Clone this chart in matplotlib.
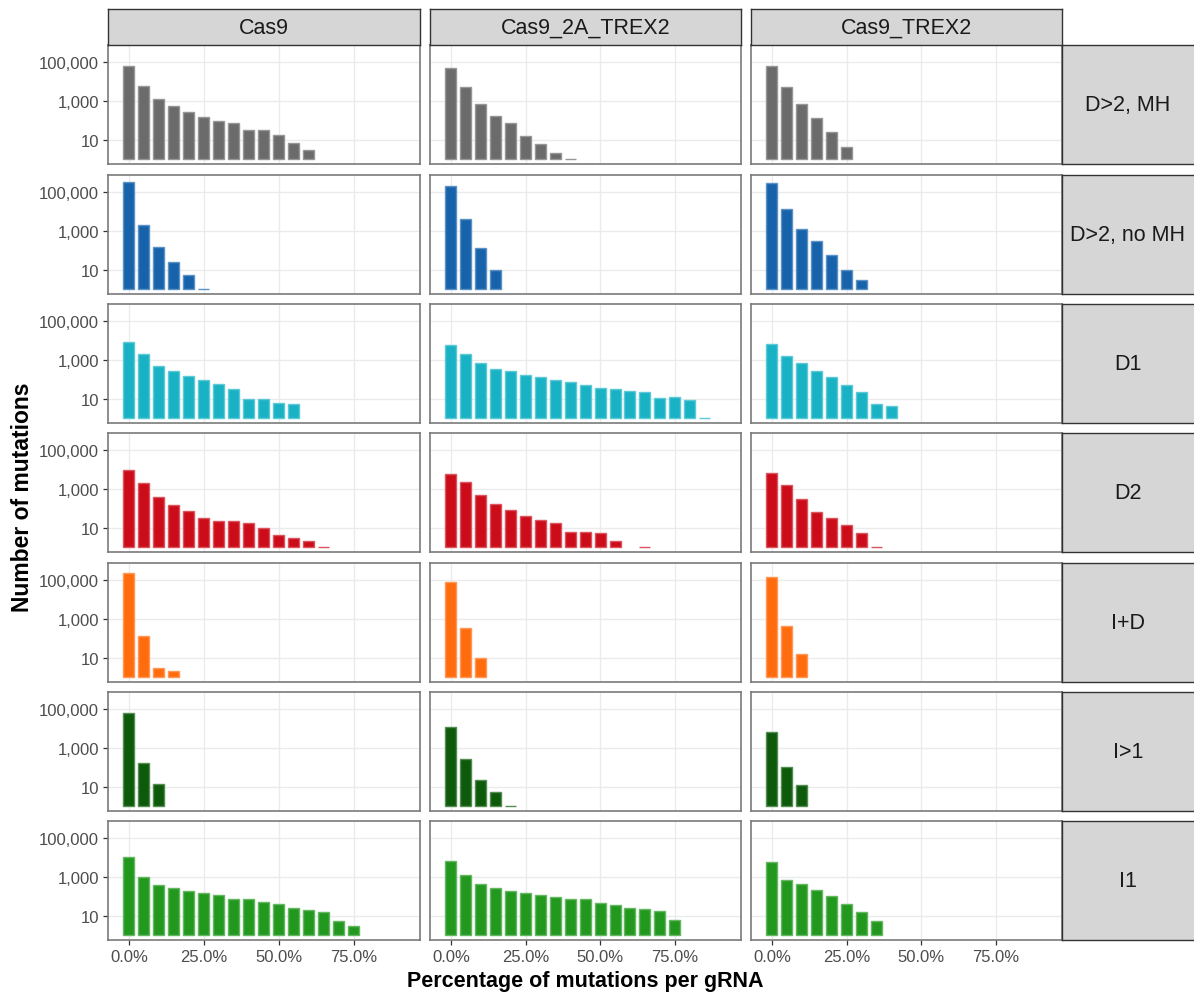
import numpy as np
import matplotlib.pyplot as plt
from matplotlib.ticker import FixedLocator, NullLocator
from matplotlib.colors import to_rgb

plt.rcParams['font.family'] = ['Liberation Sans', 'DejaVu Sans']

# Facets
conditions = ['Cas9', 'Cas9_2A_TREX2', 'Cas9_TREX2']
mut_types = ['D>2, MH', 'D>2, no MH', 'D1', 'D2', 'I+D', 'I>1', 'I1']
type_colors = ['#6b6b6b', '#1763ab', '#19b2c5', '#cc0c19', '#ff6c0e', '#0c5a0a', '#23981f']

# Number of mutations in each 5% bin (0%, 5%, 10%, ...), one list per condition
d_gt2_mh = [
    [62000, 5500, 1200, 510, 270, 155, 95, 68, 30, 30, 18, 7, 3],
    [52000, 5200, 680, 170, 69, 15, 6, 2, 1],
    [62000, 4900, 690, 123, 25, 4],
]
d_gt2_nomh = [
    [316000, 2100, 150, 26, 5, 1],
    [195000, 4000, 126, 10],
    [282000, 13800, 1260, 282, 55, 10, 3],
]
d1 = [
    [8500, 1900, 470, 260, 155, 93, 58, 32, 9, 9, 6, 5],
    [5500, 2000, 690, 355, 270, 162, 123, 89, 68, 49, 37, 32, 26, 22, 11, 12, 8, 1],
    [6800, 1620, 680, 280, 123, 52, 23, 5, 4],
]
d2 = [
    [8900, 1950, 400, 148, 68, 30, 23, 21, 17, 9, 4, 3, 2, 1],
    [6000, 2140, 457, 174, 81, 39, 24, 17, 6, 6, 5, 2, np.nan, 1],
    [6900, 1660, 300, 60, 32, 13, 5, 1],
]
i_plus_d = [
    [229000, 123, 3, 2],
    [79000, 330, 9],
    [138000, 417, 15],
]
i_gt1 = [
    [60000, 166, 13],
    [11200, 251, 22, 5, 1],
    [6900, 100, 12],
]
i1 = [
    [10500, 930, 390, 257, 195, 138, 112, 76, 72, 51, 42, 26, 19, 15, 5, 3],
    [6800, 1175, 437, 251, 182, 145, 112, 93, 72, 72, 47, 34, 26, 21, 17, 6],
    [5500, 724, 437, 219, 105, 42, 15, 5],
]
counts = [d_gt2_mh, d_gt2_nomh, d1, d2, i_plus_d, i_gt1, i1]

bin_step = 0.05
y_ticks = [10, 1000, 100000]
y_labels = ['10', '1,000', '100,000']
x_ticks = [0, 0.25, 0.5, 0.75]
x_labels = ['0.0%', '25.0%', '50.0%', '75.0%']

W, H = 1194, 995
fig = plt.figure(figsize=(W / 100, H / 100), dpi=100)
fig.patch.set_facecolor('white')


def box(x0, y0, x1, y1):
    return [x0 / W, 1 - y1 / H, (x1 - x0) / W, (y1 - y0) / H]


def lighter(c, f=0.3):
    r, g, b = to_rgb(c)
    return (r + (1 - r) * f, g + (1 - g) * f, b + (1 - b) * f)


col_x = [(108, 420), (430, 741), (751, 1062)]
row_y = [(46, 165), (176, 295), (305, 424), (434, 553), (564, 683), (693, 812), (822, 941)]
strip_border = '#333333'
panel_border = '#7a7a7a'
strip_fill = '#d6d6d6'

for r, (y0, y1) in enumerate(row_y):
    for c, (x0, x1) in enumerate(col_x):
        ax = fig.add_axes(box(x0, y0, x1, y1))
        vals = np.array(counts[r][c], dtype=float)
        pos = bin_step * np.arange(len(vals))
        keep = ~np.isnan(vals)
        ax.bar(pos[keep], vals[keep] - 1, bottom=1, width=0.037,
               color=type_colors[r], edgecolor=lighter(type_colors[r]),
               linewidth=1.0, zorder=2)
        ax.set_yscale('log')
        ax.set_ylim(10 ** -0.26, 10 ** 5.88)
        ax.set_xlim(-0.07, 0.972)
        ax.yaxis.set_major_locator(FixedLocator(y_ticks))
        ax.yaxis.set_minor_locator(NullLocator())
        ax.xaxis.set_major_locator(FixedLocator(x_ticks))
        ax.grid(True, color='#ebebeb', linewidth=1.0, zorder=0)
        ax.set_axisbelow(True)
        for s in ax.spines.values():
            s.set_color(panel_border)
            s.set_linewidth(1.2)
        ax.tick_params(length=3.5, width=0.9, color='#333333',
                       labelsize=12, labelcolor='#4d4d4d', pad=3)
        if c == 0:
            ax.set_yticklabels(y_labels)
        else:
            ax.tick_params(axis='y', length=0, labelleft=False)
        if r == len(row_y) - 1:
            ax.set_xticklabels(x_labels)
        else:
            ax.tick_params(axis='x', length=0, labelbottom=False)

    # row strip on the right (runs off the right edge)
    sax = fig.add_axes(box(1062, y0, 1215, y1))
    sax.set_facecolor(strip_fill)
    sax.set_xticks([])
    sax.set_yticks([])
    for s in sax.spines.values():
        s.set_color(strip_border)
        s.set_linewidth(1.0)
    fig.text(1128 / W, 1 - (y0 + y1) / 2 / H, mut_types[r], fontsize=15.5,
             color='#1a1a1a', ha='center', va='center')

# column strips on top
for c, (x0, x1) in enumerate(col_x):
    sax = fig.add_axes(box(x0, 10, x1, 46))
    sax.set_facecolor(strip_fill)
    sax.set_xticks([])
    sax.set_yticks([])
    for s in sax.spines.values():
        s.set_color(strip_border)
        s.set_linewidth(1.0)
    sax.text(0.5, 0.5, conditions[c], transform=sax.transAxes, fontsize=15.5,
             color='#1a1a1a', ha='center', va='center')

fig.text(585 / W, 1 - 982 / H, 'Percentage of mutations per gRNA',
         fontsize=15.5, fontweight='bold', ha='center', va='center')
fig.text(23 / W, 1 - 497 / H, 'Number of mutations', fontsize=16.5,
         fontweight='bold', rotation=90, ha='center', va='center')

fig.savefig('out.png', dpi=100)
